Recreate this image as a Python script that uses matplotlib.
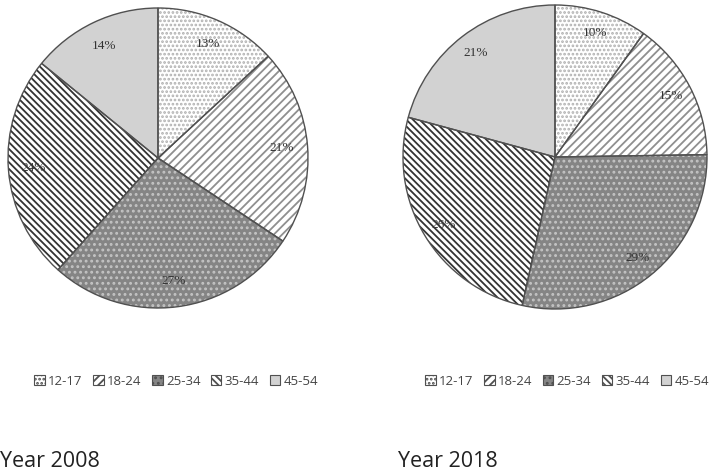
import matplotlib
matplotlib.use("Agg")
import numpy as np
import matplotlib.pyplot as plt
from matplotlib.patches import Patch

categories = ["12-17", "18-24", "25-34", "35-44", "45-54"]
values_2008 = [13, 21, 27, 24, 14]
values_2018 = [10, 15, 29, 26, 21]
titles = ["Year 2008", "Year 2018"]

face_colors = ["#ffffff", "#ffffff", "#858585", "#ffffff", "#d2d2d2"]
hatch_colors = ["#b0b0b0", "#8f8f8f", "#c4c4c4", "#333333", "#d2d2d2"]
hatches = ["....", "////", "...", "\\\\\\\\\\", ""]
outline = "#505050"

plt.rcParams["hatch.linewidth"] = 1.3
fig = plt.figure(figsize=(7.16, 4.74), dpi=100)

axes_rects = [
    [8 / 716, 166 / 474, 300 / 716, 300 / 474],
    [403 / 716, 165 / 474, 304 / 716, 304 / 474],
]
legend_anchor = [(0.246, 0.196), (0.792, 0.196)]
title_pos = [(0.0, 0.027), (0.556, 0.027)]
pctdist = [0.83, 0.86]

for i, vals in enumerate([values_2008, values_2018]):
    ax = fig.add_axes(axes_rects[i])
    # hatch layer
    wedges, _ = ax.pie(
        vals, startangle=90, counterclock=False, colors=face_colors,
        wedgeprops=dict(linewidth=0),
    )
    for w, h, hc in zip(wedges, hatches, hatch_colors):
        w.set_hatch(h)
        w.set_edgecolor(hc)
        w.set_linewidth(0)
        w.set_clip_on(False)
    # outline layer
    wedges2, _ = ax.pie(
        vals, startangle=90, counterclock=False,
        colors=["none"] * len(vals),
        wedgeprops=dict(linewidth=1.0, edgecolor=outline),
    )
    for w in wedges2:
        w.set_clip_on(False)
    # value labels
    total = float(sum(vals))
    start = 90.0
    for v in vals:
        ang = start - 360.0 * v / total / 2
        start -= 360.0 * v / total
        r = pctdist[i]
        ax.text(r * np.cos(np.radians(ang)), r * np.sin(np.radians(ang)),
                f"{v}%", ha="center", va="center", fontsize=9.5,
                family="Liberation Serif", color="#333333")
    ax.set_xlim(-1, 1)
    ax.set_ylim(-1, 1)
    ax.set_aspect("equal")
    ax.axis("off")

    handles = [Patch(facecolor=fc, edgecolor="#505050", hatch=h, linewidth=0.8)
               for fc, h in zip(face_colors, hatches)]
    fig.legend(handles, categories, loc="center", bbox_to_anchor=legend_anchor[i],
               ncol=5, frameon=False, handlelength=0.8,
               handleheight=0.8, handletextpad=0.25, columnspacing=0.8,
               labelcolor="#444444", prop=dict(family="Open Sans", size=9.5))
    fig.text(title_pos[i][0], title_pos[i][1], titles[i], fontsize=15.5,
             family="Open Sans", color="#222222", ha="left", va="center")

fig.savefig("out.png", dpi=100)
